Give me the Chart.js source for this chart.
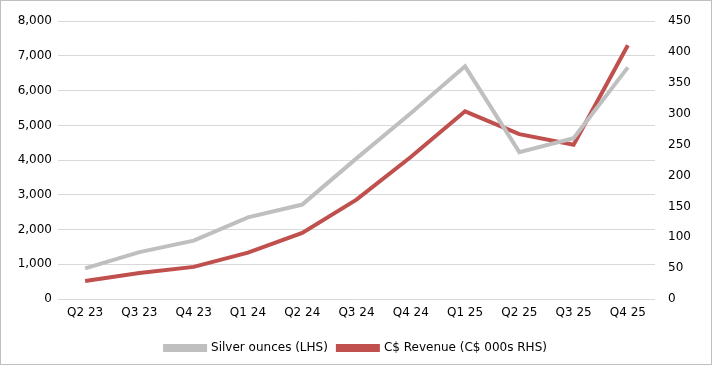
<!DOCTYPE html>
<html>
<head>
<meta charset="utf-8">
<script src="https://cdn.jsdelivr.net/npm/chart.js@4.4.0/dist/chart.umd.min.js"></script>
<style>
    html, body { margin: 0; padding: 0; background: #fff; }
    #wrap {
        width: 712px;
        height: 365px;
        box-sizing: border-box;
        border: 1px solid #BFBFBF;
        position: relative;
    }
</style>
</head>
<body>
<div id="wrap"><canvas id="silverChart"></canvas></div>
<script>
// Quarterly data
const quarters = ['Q2 23', 'Q3 23', 'Q4 23', 'Q1 24', 'Q2 24', 'Q3 24', 'Q4 24', 'Q1 25', 'Q2 25', 'Q3 25', 'Q4 25'];
const silverOunces = [880, 1350, 1680, 2350, 2720, 4050, 5350, 6700, 4230, 4630, 6670];
const revenueC = [29, 42, 52, 75, 107, 161, 230, 304, 267, 250, 411];

const leftTicks = [0, 1000, 2000, 3000, 4000, 5000, 6000, 7000, 8000];
const rightTicks = [0, 50, 100, 150, 200, 250, 300, 350, 400, 450];

const grey = '#BFBFBF';
const red = '#C0504D';

Chart.defaults.font.family = '"DejaVu Sans", Verdana, sans-serif';
Chart.defaults.font.size = 12;
Chart.defaults.color = '#000';

const ctx = document.getElementById('silverChart').getContext('2d');

new Chart(ctx, {
    type: 'line',
    data: {
        labels: quarters,
        datasets: [{
            label: 'Silver ounces (LHS)',
            data: silverOunces,
            borderColor: grey,
            backgroundColor: grey,
            borderWidth: 4,
            pointRadius: 0,
            tension: 0,
            yAxisID: 'y'
        }, {
            label: 'C$ Revenue (C$ 000s RHS)',
            data: revenueC,
            borderColor: red,
            backgroundColor: red,
            borderWidth: 4,
            pointRadius: 0,
            tension: 0,
            yAxisID: 'y1'
        }]
    },
    options: {
        responsive: true,
        maintainAspectRatio: false,
        animation: false,
        layout: {
            padding: { top: 11, bottom: 0, left: 0, right: 0 }
        },
        plugins: {
            legend: {
                position: 'bottom',
                labels: {
                    boxWidth: 40,
                    boxHeight: 4,
                    padding: 10,
                    color: '#000'
                }
            },
            tooltip: { enabled: false }
        },
        scales: {
            x: {
                offset: true,
                grid: { display: false, drawTicks: false },
                border: { display: false },
                ticks: { padding: 7, maxRotation: 0 },
                afterFit: function(scale) { scale.height = 33; }
            },
            y: {
                position: 'left',
                min: 0,
                max: 8000,
                afterBuildTicks: function(scale) {
                    scale.ticks = leftTicks.map(v => ({ value: v }));
                },
                ticks: {
                    padding: 6,
                    callback: function(value) { return value.toLocaleString('en-US'); }
                },
                grid: { color: '#D9D9D9', drawTicks: false, lineWidth: 1 },
                border: { display: false },
                afterFit: function(scale) { scale.width = 57; }
            },
            y1: {
                position: 'right',
                min: 0,
                max: 450,
                afterBuildTicks: function(scale) {
                    scale.ticks = rightTicks.map(v => ({ value: v }));
                },
                ticks: { padding: 13 },
                grid: { display: false, drawTicks: false },
                border: { display: false },
                afterFit: function(scale) { scale.width = 56; }
            }
        }
    }
});
</script>
</body>
</html>
